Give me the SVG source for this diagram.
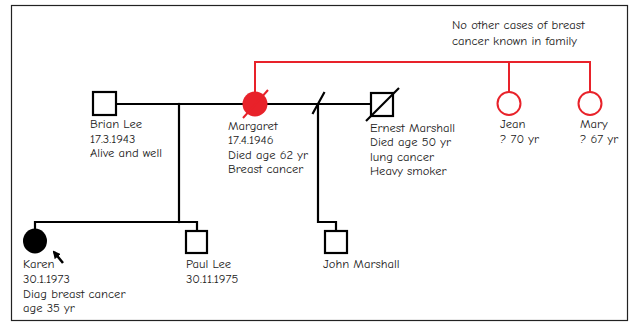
<svg xmlns="http://www.w3.org/2000/svg" width="633" height="322" viewBox="0 0 633 322">
<style>
.blk{fill:none;stroke:#000;stroke-width:2.2;stroke-linecap:square}
.red{fill:none;stroke:#e8222a;stroke-width:2}
.sq{fill:#fff;stroke:#000;stroke-width:2.2}
.t{font-family:"Comic Sans MS","Comic Neue","Liberation Sans",sans-serif;font-size:12.6px;fill:#222}
</style>
<defs>
<marker id="ah" markerWidth="8" markerHeight="8" refX="6" refY="4" orient="auto" markerUnits="userSpaceOnUse">
<path d="M0,0 L8,4 L0,8 z" fill="#000"/>
</marker>
</defs>
<rect x="11.5" y="5.5" width="616" height="315" fill="#fff" stroke="#222" stroke-width="1.2"/>
<g id="connectors">
<path class="blk" d="M116,104 H371"/>
<path class="blk" d="M179,104 V222"/>
<path class="blk" d="M35,229 V222 H197 V231"/>
<path class="blk" d="M318,104 V222 H336 V231"/>
<path class="blk" d="M313,113 L324,93"/>
<path class="red" d="M255,92 V62 H590 V92 M509,62 V92"/>
</g>
<g id="brian">
<rect class="sq" x="93" y="92" width="23" height="23"/>
<text class="t" x="90" y="128">Brian Lee</text>
<text class="t" x="90" y="143">17.3.1943</text>
<text class="t" x="90" y="157">Alive and well</text>
</g>
<g id="margaret">
<circle cx="255" cy="104" r="12.5" fill="#e8222a"/>
<line x1="243" y1="118" x2="268" y2="90" stroke="#e8222a" stroke-width="2"/>
<text class="t" x="228" y="130">Margaret</text>
<text class="t" x="228" y="144">17.4.1946</text>
<text class="t" x="228" y="159">Died age 62 yr</text>
<text class="t" x="228" y="173">Breast cancer</text>
</g>
<g id="ernest">
<rect class="sq" x="371" y="93" width="22" height="23"/>
<line x1="366" y1="121" x2="399" y2="88" stroke="#000" stroke-width="2.2"/>
<text class="t" x="370" y="132">Ernest Marshall</text>
<text class="t" x="370" y="146">Died age 50 yr</text>
<text class="t" x="370" y="161">lung cancer</text>
<text class="t" x="370" y="175">Heavy smoker</text>
</g>
<g id="jean">
<circle cx="509" cy="103.5" r="11.5" fill="#fff" stroke="#e8222a" stroke-width="2"/>
<text class="t" x="500" y="128">Jean</text>
<text class="t" x="500" y="143">? 70 yr</text>
</g>
<g id="mary">
<circle cx="590" cy="103.5" r="11.5" fill="#fff" stroke="#e8222a" stroke-width="2"/>
<text class="t" x="580" y="128">Mary</text>
<text class="t" x="580" y="143">? 67 yr</text>
</g>
<g id="note">
<text class="t" x="452" y="29">No other cases of breast</text>
<text class="t" x="452" y="45">cancer known in family</text>
</g>
<g id="karen">
<ellipse cx="35" cy="241" rx="12" ry="12.5" fill="#000"/>
<line x1="63" y1="263" x2="54" y2="252" stroke="#000" stroke-width="2.5" marker-end="url(#ah)"/>
<text class="t" x="23" y="268">Karen</text>
<text class="t" x="23" y="283">30.1.1973</text>
<text class="t" x="23" y="298">Diag breast cancer</text>
<text class="t" x="23" y="312">age 35 yr</text>
</g>
<g id="paul">
<rect class="sq" x="186" y="231" width="21" height="22"/>
<text class="t" x="186" y="268">Paul Lee</text>
<text class="t" x="186" y="283">30.11.1975</text>
</g>
<g id="john">
<rect class="sq" x="325" y="231" width="22" height="22"/>
<text class="t" x="323" y="268">John Marshall</text>
</g>
</svg>
